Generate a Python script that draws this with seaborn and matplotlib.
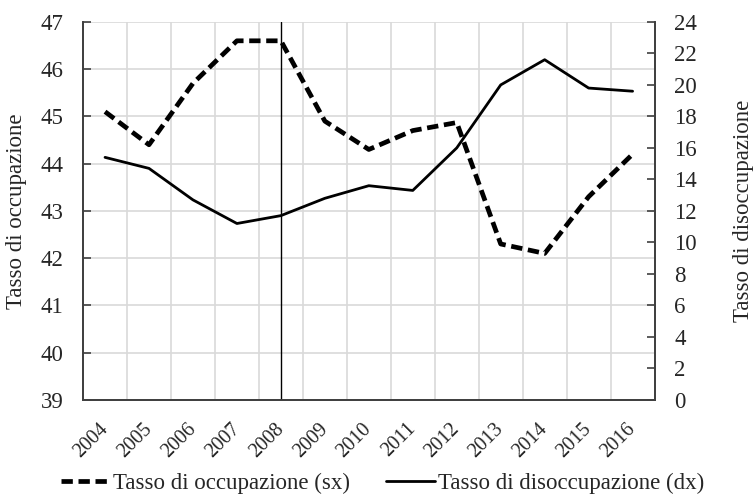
import numpy as np
import pandas as pd
import matplotlib
matplotlib.use("Agg")
import matplotlib.pyplot as plt
from matplotlib.lines import Line2D
import seaborn as sns

years = [2004, 2005, 2006, 2007, 2008, 2009, 2010, 2011, 2012, 2013, 2014, 2015, 2016]
occupazione = [45.1, 44.4, 45.7, 46.6, 46.6, 44.9, 44.3, 44.7, 44.87, 42.3, 42.1, 43.3, 44.2]
disoccupazione = [15.4, 14.7, 12.7, 11.2, 11.7, 12.8, 13.6, 13.3, 16.0, 20.0, 21.6, 19.8, 19.6]
left_ticks = [39, 40, 41, 42, 43, 44, 45, 46, 47]
right_ticks = [0, 2, 4, 6, 8, 10, 12, 14, 16, 18, 20, 22, 24]
label_occ = "Tasso di occupazione (sx)"
label_dis = "Tasso di disoccupazione (dx)"

df = pd.DataFrame({"anno": years, "occ": occupazione, "dis": disoccupazione})

sns.set_style("white")
plt.rcParams["font.family"] = ["Liberation Serif", "DejaVu Serif"]
FS = 16.5
plt.rcParams["font.size"] = FS
text_col = "#262626"

fig = plt.figure(figsize=(7.55, 4.98), dpi=100)
ax = fig.add_axes([0.110, 0.197, 0.757, 0.759])
ax2 = ax.twinx()

spine_col = "#404040"
grid_col = "#d9d9d9"
dash = (0, (2.4, 1.2))

sns.lineplot(data=df, x="anno", y="occ", ax=ax, color="black", lw=3.4,
             linestyle=dash)
ax.lines[-1].set_dash_capstyle("butt")
ax.axvline(2008, color="black", lw=1.0, zorder=5)

sns.lineplot(data=df, x="anno", y="dis", ax=ax2, color="black", lw=2.0)

# gridlines: horizontal at left ticks, vertical between categories
ax.set_xlim(2003.5, 2016.5)
ax.set_ylim(39, 47)
ax.set_yticks(left_ticks)
ax.set_xticks(years)
ax.set_xticks([y + 0.5 for y in years[:-1]], minor=True)
ax.grid(False)
ax.yaxis.grid(True, color=grid_col, lw=1.2)
ax.xaxis.grid(True, which="minor", color=grid_col, lw=1.2)
ax.set_axisbelow(True)

ax2.set_ylim(0, 24)
ax2.set_yticks(right_ticks)
ax2.grid(False)

for a in (ax, ax2):
    for s in a.spines.values():
        s.set_color(spine_col)
        s.set_linewidth(1.3)
    a.spines["top"].set_visible(False)

ax.tick_params(axis="y", direction="in", length=6, width=1.2, color=spine_col,
               labelsize=FS, labelcolor=text_col, pad=14)
ax.tick_params(axis="x", which="major", direction="in", length=6, width=1.2,
               color=spine_col, labelsize=14.5, labelcolor=text_col, pad=19,
               labelrotation=45)
ax.tick_params(axis="x", which="minor", length=0)
ax2.tick_params(axis="y", direction="in", length=6, width=1.2, color=spine_col,
                labelsize=FS, labelcolor=text_col, pad=14)

ax.set_xticks(years, [str(y) for y in years], rotation=45, ha="right",
              va="center", rotation_mode="anchor")

ax.set_xlabel("")
ax.set_ylabel("Tasso di occupazione", fontsize=FS, color=text_col, labelpad=10)
ax2.set_ylabel("Tasso di disoccupazione", fontsize=FS, color=text_col,
               labelpad=26)

handles = [
    Line2D([], [], color="black", lw=3.4, linestyle=dash, dash_capstyle="butt"),
    Line2D([], [], color="black", lw=2.0),
]
leg = fig.legend(handles, [label_occ, label_dis], loc="center",
                 bbox_to_anchor=(0.507, 0.030), ncol=2, frameon=False,
                 fontsize=FS, handlelength=2.1, handletextpad=0.15,
                 columnspacing=1.6)
for t in leg.get_texts():
    t.set_color(text_col)

fig.savefig("out.png", dpi=100)
